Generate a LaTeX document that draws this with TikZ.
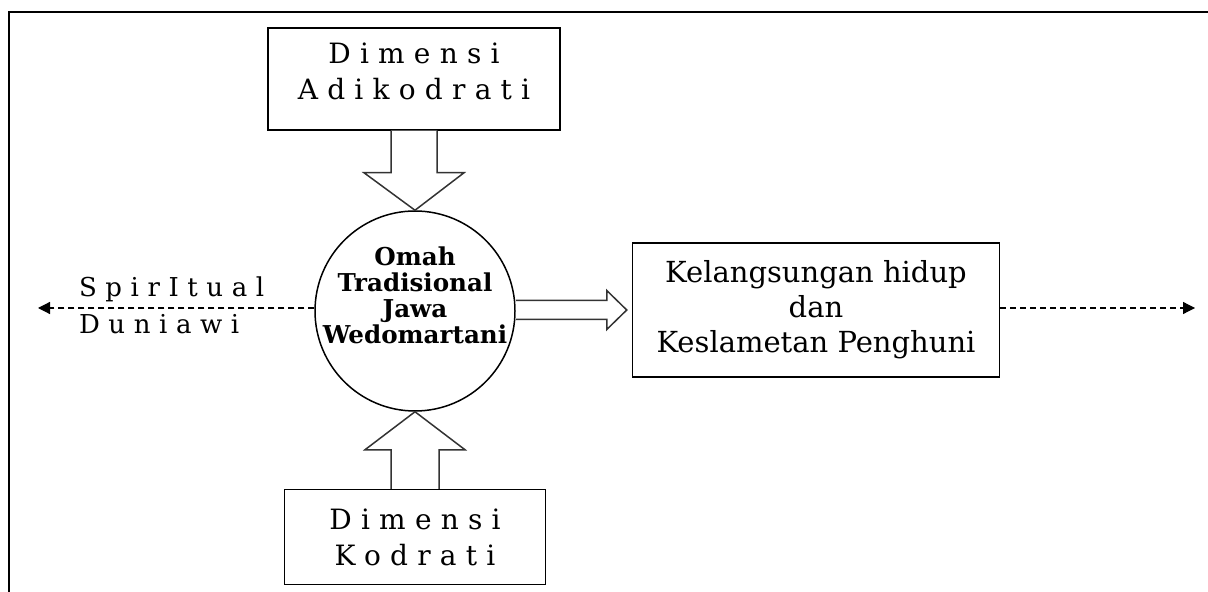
\documentclass[tikz,border=0pt]{standalone}
\usepackage{fontspec}
\setmainfont{DejaVu Serif}
\newfontfamily\jarakfont[LetterSpace=33]{DejaVu Serif}
\usetikzlibrary{arrows.meta,calc}
\tikzset{
  kotak/.style={draw, line width=0.75pt, inner sep=0pt, align=center},
  bulat/.style={draw, circle, line width=0.75pt, inner sep=0pt, minimum size=100pt},
  teks tebal/.style={align=center, inner sep=0pt, font=\bfseries\fontsize{12.3}{13}\selectfont},
  panah blok/.style={draw=black!80, line width=0.75pt, fill=white, line join=miter},
  putus/.style={dash pattern=on 3pt off 2pt, line width=0.6pt, -{Triangle[length=6pt,width=6pt]}},
  jarak/.style={align=center, inner sep=0pt, font=\jarakfont\fontsize{14}{18}\selectfont}
}
\begin{document}
\begin{tikzpicture}[x=0.5pt, y=-0.5pt]
                \useasboundingbox (0,0) rectangle (1208,592);
                
                % Drawing frame
                \draw [line width=1.4pt] (9,592) -- (9,12) -- (1208,12);%
                
                % Drawing circle Omah
                \node [bulat] (omah) at (415,311) {};%
                \node [teks tebal] (omahteks) at (415,295) {Omah\\Tradisional\\Jawa\\Wedomartani};%
                
                % Drawing box Adikodrati
                \node [kotak, minimum width=146pt, minimum height=51pt] (adi) at (414,79) {};%
                \node [jarak] (aditeks) at (414,71) {Dimensi\\Adikodrati};%
                
                % Drawing box Kodrati
                \node [kotak, jarak, minimum width=130.5pt, minimum height=47.5pt] (kod) at (415,537) {Dimensi\\Kodrati};%
                
                % Drawing box Kelangsungan
                \node [kotak, minimum width=183.5pt, minimum height=67pt, font=\fontsize{14.5}{17.5}\selectfont] (hidup) at (816,310) {Kelangsungan hidup\\dan\\Keslametan Penghuni};%
                
                % Drawing block arrow Adikodrati Omah
                \draw [panah blok] ($(adi.south)+(-23,0)$) -- ($(adi.south)+(-23,42)$) -- ($(adi.south)+(-50,42)$) -- (omah.north) -- ($(adi.south)+(50,42)$) -- ($(adi.south)+(23,42)$) -- ($(adi.south)+(23,0)$);%
                
                % Drawing block arrow Kodrati Omah
                \draw [panah blok] ($(kod.north)+(-24,0)$) -- ($(kod.north)+(-24,-39)$) -- ($(kod.north)+(-50,-39)$) -- (omah.south) -- ($(kod.north)+(50,-39)$) -- ($(kod.north)+(24,-39)$) -- ($(kod.north)+(24,0)$);%
                
                % Drawing block arrow Omah Kelangsungan
                \coordinate (ujung) at ($(hidup.west)+(-5,0)$);
                \coordinate (pangkal) at (omah.east |- ujung);
                \draw [panah blok] ($(pangkal)+(0,-9.5)$) -- ($(ujung)+(-20,-9.5)$) -- ($(ujung)+(-20,-19.5)$) -- (ujung) -- ($(ujung)+(-20,19.5)$) -- ($(ujung)+(-20,9.5)$) -- ($(pangkal)+(0,9.5)$);%
                
                % Drawing dashed arrows
                \coordinate (kiri) at (38,308);
                \coordinate (kanan) at (1195,308);
                \draw [putus] (omah.west |- kiri) -- (kiri);%
                \draw [putus] (hidup.east |- kanan) -- (kanan);%
                
                % Marking labels Spiritual Duniawi
                \node [anchor=west, font=\jarakfont\fontsize{13}{15}\selectfont] (spir) at (72,289) {SpirItual};%
                \node [anchor=west, font=\jarakfont\fontsize{13}{15}\selectfont] (duni) at (72,324) {Duniawi};%
\end{tikzpicture}
\end{document}
